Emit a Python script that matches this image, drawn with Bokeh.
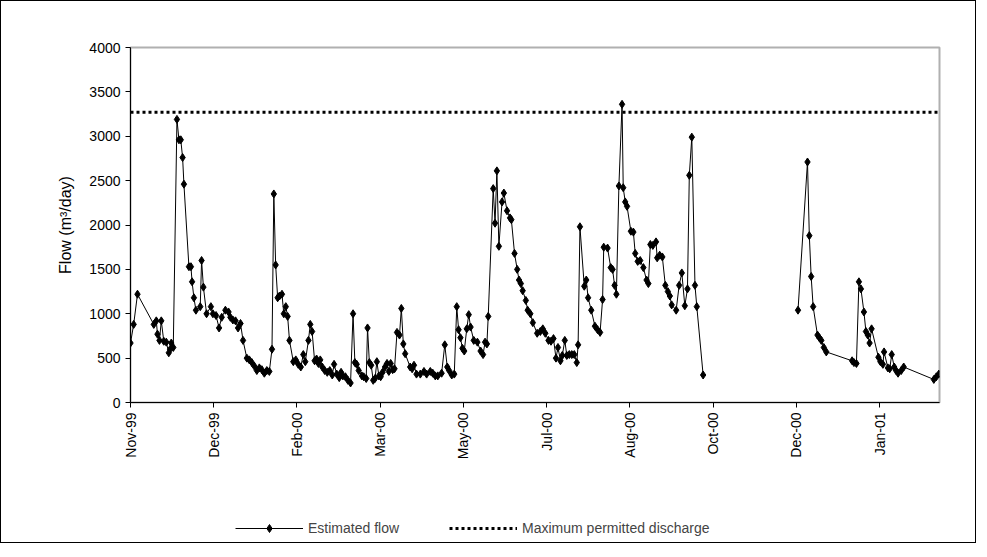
import numpy as np
from bokeh.plotting import figure
from bokeh.layouts import column
from bokeh.models import Legend, LegendItem, FixedTicker
from bokeh.embed import file_html
from bokeh.resources import INLINE

# days since 1 Nov 1999 (nan = gap in record)
days = [0, 1.9, 4.2, 14, 15.5, 16.2, 17.4, 18.5, 20, 21.5, 23, 23.8, 24.5, 25.7, 27.9, 29.1, 30.2, 31.3, 32.1,
        35.1, 36.3, 37, 38.1, 39.3, 41.9, 42.7, 43.8, 45.7, 48.3, 49.5, 51.4, 53.2, 54.8, 57, 58.9, 60, 61.5,
        63.1, 64.6, 66.1, 67.6, 69.9, 71.4, 72.9, 74.4, 75.9, 77.4, 78.9, 80.4, 81.9, 83.4, 85, 86.1, 87.2,
        88.4, 89.5, 91, 92.1, 93.3, 94.4, 95.5, 97.8, 99.3, 100.8, 102.3, 103.8, 105, 106.9, 108, 109.1, 110.6,
        111.8, 112.9, 114, 115.2, 116.7, 118.2, 119.7, 121.2, 122.3, 123.9, 125.4, 126.5, 127.6, 129.1, 130.6,
        132.2, 133.7, 134.8, 135.9, 137.1, 139, 140.1, 141.6, 142.4, 143.5, 144.6, 145.8, 146.9, 148, 149.2,
        150.3, 151.4, 152.9, 154.1, 155.2, 156.3, 157.5, 158.6, 160.1, 161.6, 162.7, 163.9, 165, 168, 169.2,
        170.3, 171.8, 174.1, 176.3, 177.9, 180.1, 181.6, 183.1, 184.6, 186.9, 188.8, 190.3, 191.4, 193, 194.5,
        196, 197.1, 198.2, 199.4, 200.5, 202, 203.2, 204.3, 206.2, 208.4, 210.3, 211.8, 213, 214.1, 214.9,
        217.9, 219, 220.1, 221.3, 223.2, 224.3, 226.2, 228, 228.8, 230.7, 232.3, 233.4, 234.5, 235.6, 237.5,
        238.6, 240.2, 241.7, 244.3, 246.2, 247.7, 249.2, 251.1, 252.6, 254.1, 255.6, 256.8, 258.3, 259.4,
        260.9, 262.1, 263.6, 265.1, 266.6, 268.1, 268.9, 270, 272.6, 273.8, 274.9, 276.8, 279, 280.6, 282.1,
        283.6, 284.3, 286.6, 288.5, 289.6, 290.8, 291.9, 293.4, 295.3, 296, 297.2, 298.3, 300.6, 302.1, 303.2,
        304.7, 306.2, 308.1, 310, 311.1, 312.3, 313.8, 315.7, 316.4, 317.9, 319.5, 321.3, 322.8, 324, 325.1,
        327.8, 329.6, 331.2, 333, 334.6, 335.7, 337.2, 339.1, 340.2, 344, np.nan,
        401, 406.7, 407.8, 408.9, 410.1, 412.7, 413.8, 415, 416.5, 418, 433.5, 434.6, 436.1, 437.6, 438.8,
        440.6, 441.8, 442.9, 444, 445.2, 449.3, 450.5, 452, 452.7, 455, 456.1, 457.3, 458.8, 459.9, 461.1,
        463, 464.5, 482.6, 484.1, 485.6]

flow = [670, 880, 1220, 880, 920, 770, 700, 920, 690, 680, 560, 600, 670, 620, 3190, 2960, 2960, 2760, 2460,
        1530, 1530, 1360, 1180, 1040, 1080, 1600, 1300, 1000, 1080, 1000, 980, 840, 960, 1040, 1020, 960, 930,
        920, 840, 890, 700, 500, 480, 450, 410, 360, 390, 370, 330, 360, 350, 600, 2350, 1550,
        1180, 1200, 1220, 1000, 1080, 970, 700, 460, 480, 430, 400, 540, 460, 700, 880, 800, 470,
        490, 440, 480, 400, 360, 340, 360, 310, 430, 320, 280, 340, 300, 290, 250,
        220, 1000, 450, 430, 360, 300, 290, 270, 840, 450, 420, 250, 270, 460, 300,
        290, 340, 400, 440, 350, 440, 370, 380, 790, 760, 1060, 660, 550, 400, 380,
        420, 320, 320, 350, 320, 350, 330, 300, 300, 330, 650, 400, 360, 310, 320,
        1080, 820, 730, 610, 580, 830, 990, 850, 700, 680, 580, 540, 680, 660, 970,
        2410, 2020, 2610, 1760, 2260, 2360, 2160, 2080, 2060, 1680, 1500, 1380, 1340, 1260, 1150,
        1040, 1000, 900, 780, 800, 830, 780, 700, 690, 720, 500, 620, 470, 530,
        700, 530, 540, 540, 540, 450, 650, 1980, 1310, 1380, 1180, 1040, 860, 820, 790,
        1160, 1750, 1740, 1520, 1500, 1320, 1220, 2440, 3360, 2420, 2260, 2210, 1930, 1920, 1680,
        1590, 1600, 1520, 1380, 1340, 1780, 1770, 1810, 1630, 1660, 1640, 1320, 1250, 1200, 1100,
        1040, 1320, 1460, 1090, 1280, 2560, 2990, 1320, 1080, 310, np.nan,
        1040, 2710, 1880, 1420, 1080, 760, 730, 700, 620, 570, 470, 450, 440, 1360, 1280,
        1020, 800, 760, 670, 830, 510, 460, 430, 570, 390, 380, 540, 400, 360, 330,
        360, 400, 260, 290, 320]

max_discharge = 3270
tick_days = [0, 50, 100, 150, 200, 250, 300, 350, 400, 450]
tick_labels = ["Nov-99", "Dec-99", "Feb-00", "Mar-00", "May-00", "Jul-00", "Aug-00", "Oct-00", "Dec-00", "Jan-01"]

FONT = "Liberation Sans"

p = figure(frame_width=809, frame_height=355, output_backend="svg", toolbar_location=None,
           x_range=(0, 486), y_range=(0, 4000),
           min_border_left=129, min_border_right=36, min_border_top=46, min_border_bottom=110)
p.xgrid.visible = False
p.ygrid.visible = False
p.outline_line_color = "#b0b0b0"
p.outline_line_width = 2

p.line(days, flow, line_color="black", line_width=1)
p.scatter(days, flow, marker="diamond", size=8, color="black")
p.line([0, 486], [max_discharge, max_discharge], line_color="black", line_width=3, line_dash="3 3")

p.yaxis.ticker = FixedTicker(ticks=list(range(0, 4001, 500)))
p.yaxis.axis_label = "Flow (m³/day)"
p.xaxis.ticker = FixedTicker(ticks=tick_days)
p.xaxis.major_label_overrides = {d: l for d, l in zip(tick_days, tick_labels)}
p.xaxis.major_label_orientation = np.pi / 2
for ax in (p.xaxis, p.yaxis):
    ax.minor_tick_line_color = None
    ax.major_tick_in = 0
    ax.major_tick_out = 5
    ax.axis_line_color = "black"
    ax.major_tick_line_color = "black"
    ax.major_label_text_font = FONT
    ax.major_label_text_font_size = "14px"
    ax.major_label_text_color = "black"
p.yaxis.axis_label_text_font = FONT
p.yaxis.axis_label_text_font_size = "16px"
p.yaxis.axis_label_text_font_style = "normal"
p.yaxis.axis_label_text_color = "black"
p.yaxis.axis_label_standoff = 12

# legend strip under the chart (off-range renderers carry only the legend styles)
lg = figure(width=974, height=30, output_backend="svg", toolbar_location=None,
            min_border=0, x_range=(0, 1), y_range=(0, 1))
lg.axis.visible = False
lg.grid.visible = False
lg.outline_line_color = None
l1 = lg.line([5, 6], [5, 5], line_color="black", line_width=1)
s1 = lg.scatter([5], [5], marker="diamond", size=8, color="black")
l2 = lg.line([5, 6], [5, 5], line_color="black", line_width=3, line_dash="3 3")
legend = Legend(items=[LegendItem(label="Estimated flow", renderers=[l1, s1]),
                       LegendItem(label="Maximum permitted discharge", renderers=[l2])],
                orientation="horizontal", location=(105, 4), border_line_color=None,
                background_fill_alpha=0,
                label_text_font=FONT, label_text_font_size="14px", glyph_width=68,
                spacing=50, margin=0, padding=0)
lg.add_layout(legend, "center")

layout = column(p, lg, spacing=0)
layout.styles = {"border": "1px solid black"}

open("out.html", "w").write(file_html(layout, INLINE))
